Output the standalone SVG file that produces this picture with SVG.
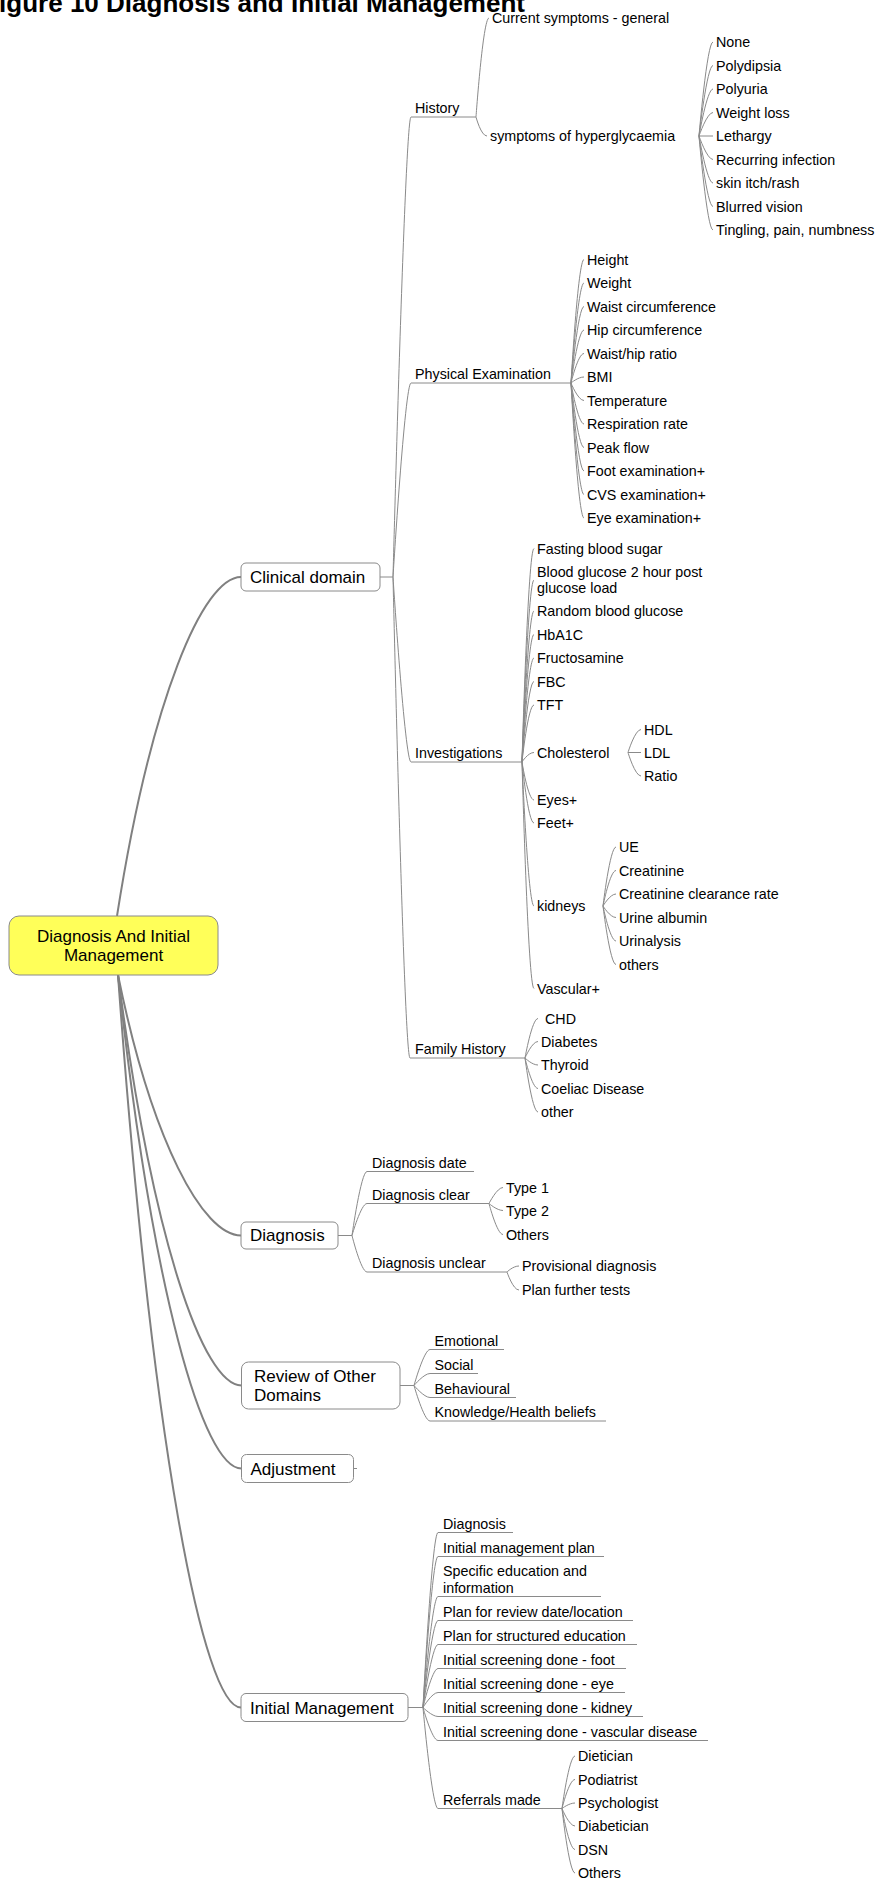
<svg xmlns="http://www.w3.org/2000/svg" width="877" height="1879" viewBox="0 0 877 1879">
<style>
  text { font-family: "Liberation Sans", Arial, sans-serif; fill: #000; }
  .title { font-size: 26px; font-weight: bold; }
  .root-t { font-size: 17px; }
  .n { font-size: 17px; }
  .t { font-size: 14.3px; }
  .box { fill: #fff; stroke: #8a8a8a; stroke-width: 1; }
  .root { fill: #ffff59; stroke: #8a8a8a; stroke-width: 1; }
  .c { fill: none; stroke: #8a8a8a; stroke-width: 1; }
  .r { fill: none; stroke: #808080; stroke-width: 2; }
</style>

<text class="title" x="525" y="11.5" text-anchor="end">Figure 10 Diagnosis and Initial Management</text>

<!-- connectors -->
<g id="connectors">
  <!-- root to main topics -->
  <path class="r" d="M117,916 C151,699 203,577 241,577"/>
  <path class="r" d="M118,975 C152,1142 203,1235.5 241,1235.5"/>
  <path class="r" d="M118,975 C152,1238 203,1385.5 241.5,1385.5"/>
  <path class="r" d="M118,975 C152,1291 203,1468.5 241.5,1468.5"/>
  <path class="r" d="M118,975 C152,1444 203,1707.5 241,1707.5"/>
  <!-- stubs out of main topics -->
  <path class="c" d="M380,577 H393 M338,1235.5 H352 M400,1385.5 H414 M353.5,1468.5 H357 M408,1707.5 H423"/>

  <!-- clinical domain -->
  <path class="c" d="M393,577 C393,577 405,117 411,117 H476"/>
  <path class="c" d="M393,577 C393,577 405,383 411,383 H571"/>
  <path class="c" d="M393,577 C393,577 405,762 411,762 H522"/>
  <path class="c" d="M393,577 C393,577 404,1058 410,1058 H525"/>

  <!-- history -->
  <path class="c" d="M476,117 C476,117 483,18 489,18"/>
  <path class="c" d="M476,117 C476,117 481,136 487,136"/>

  <!-- symptoms of hyperglycaemia -->
  <path class="c" d="M699,136 C699,136 707,42 713,42 M699,136 C699,136 707,65.5 713,65.5 M699,136 C699,136 707,89 713,89 M699,136 C699,136 707,112.5 713,112.5 M699,136 H713 M699,136 C699,136 707,159.5 713,159.5 M699,136 C699,136 707,183 713,183 M699,136 C699,136 707,206.5 713,206.5 M699,136 C699,136 707,230 713,230"/>

  <!-- physical examination -->
  <path class="c" d="M571,383 C571,383 578,259.5 584,259.5 M571,383 C571,383 578,283 584,283 M571,383 C571,383 578,306.5 584,306.5 M571,383 C571,383 578,330 584,330 M571,383 C571,383 578,353.5 584,353.5 M571,383 C571,383 578,377 584,377 M571,383 C571,383 578,400.5 584,400.5 M571,383 C571,383 578,424 584,424 M571,383 C571,383 578,447.5 584,447.5 M571,383 C571,383 578,471 584,471 M571,383 C571,383 578,494.5 584,494.5 M571,383 C571,383 578,518 584,518"/>

  <!-- investigations -->
  <path class="c" d="M522,762 C522,762 528,548.5 534,548.5 M522,762 C522,762 528,580 534,580 M522,762 C522,762 528,611 534,611 M522,762 C522,762 528,634.5 534,634.5 M522,762 C522,762 528,658 534,658 M522,762 C522,762 528,681.5 534,681.5 M522,762 C522,762 528,705 534,705 M522,762 C522,762 528,752.5 534,752.5 M522,762 C522,762 528,800 534,800 M522,762 C522,762 528,823 534,823 M522,762 C522,762 528,906 534,906 M522,762 C522,762 528,988.5 534,988.5"/>
  <path class="c" d="M628,752.5 C628,752.5 635,729.5 641,729.5 M628,752.5 H641 M628,752.5 C628,752.5 635,776 641,776"/>
  <path class="c" d="M603,906 C603,906 610,847 616,847 M603,906 C603,906 610,870.5 616,870.5 M603,906 C603,906 610,894 616,894 M603,906 C603,906 610,917.5 616,917.5 M603,906 C603,906 610,941 616,941 M603,906 C603,906 610,964.5 616,964.5"/>

  <!-- family history -->
  <path class="c" d="M525,1058 C525,1058 532,1018.5 538,1018.5 M525,1058 C525,1058 532,1041.5 538,1041.5 M525,1058 C525,1058 532,1065 538,1065 M525,1058 C525,1058 532,1088.5 538,1088.5 M525,1058 C525,1058 532,1112 538,1112"/>

  <!-- diagnosis -->
  <path class="c" d="M352,1235.5 C352,1235.5 361,1171.5 367,1171.5 H474"/>
  <path class="c" d="M352,1235.5 C352,1235.5 361,1203.5 367,1203.5 H489"/>
  <path class="c" d="M352,1235.5 C352,1235.5 361,1272 367,1272 H507"/>
  <path class="c" d="M489,1203.5 C489,1203.5 497,1187.5 503,1187.5 M489,1203.5 C489,1203.5 497,1210.5 503,1210.5 M489,1203.5 C489,1203.5 497,1234.5 503,1234.5"/>
  <path class="c" d="M507,1272 C507,1272 513,1266 519,1266 M507,1272 C507,1272 513,1290 519,1290"/>

  <!-- review of other domains -->
  <path class="c" d="M414,1385.5 C414,1385.5 424,1349.5 430,1349.5 H504"/>
  <path class="c" d="M414,1385.5 C414,1385.5 424,1373.5 430,1373.5 H478"/>
  <path class="c" d="M414,1385.5 C414,1385.5 424,1397.5 430,1397.5 H516"/>
  <path class="c" d="M414,1385.5 C414,1385.5 424,1421 430,1421 H606"/>

  <!-- initial management -->
  <path class="c" d="M423,1707.5 C423,1707.5 432,1532.5 438,1532.5 H513"/>
  <path class="c" d="M423,1707.5 C423,1707.5 432,1556.5 438,1556.5 H604"/>
  <path class="c" d="M423,1707.5 C423,1707.5 432,1596.5 438,1596.5 H601"/>
  <path class="c" d="M423,1707.5 C423,1707.5 432,1620.5 438,1620.5 H633"/>
  <path class="c" d="M423,1707.5 C423,1707.5 432,1644.5 438,1644.5 H637"/>
  <path class="c" d="M423,1707.5 C423,1707.5 432,1668.5 438,1668.5 H626"/>
  <path class="c" d="M423,1707.5 C423,1707.5 432,1692.5 438,1692.5 H625"/>
  <path class="c" d="M423,1707.5 C423,1707.5 432,1716.5 438,1716.5 H643"/>
  <path class="c" d="M423,1707.5 C423,1707.5 432,1740.5 438,1740.5 H708"/>
  <path class="c" d="M423,1707.5 C423,1707.5 432,1808.5 438,1808.5 H562"/>
  <path class="c" d="M562,1808.5 C562,1808.5 569,1756 575,1756 M562,1808.5 C562,1808.5 569,1779.5 575,1779.5 M562,1808.5 C562,1808.5 569,1803 575,1803 M562,1808.5 C562,1808.5 569,1826 575,1826 M562,1808.5 C562,1808.5 569,1849.5 575,1849.5 M562,1808.5 C562,1808.5 569,1873 575,1873"/>
</g>

<!-- central topic -->
<g id="root">
  <rect class="root" x="9" y="916" width="209" height="59" rx="10"/>
  <text class="root-t" x="113.5" y="942" text-anchor="middle">Diagnosis And Initial</text>
  <text class="root-t" x="113.5" y="961" text-anchor="middle">Management</text>
</g>

<!-- main topics -->
<g id="clinical-domain">
  <rect class="box" x="241" y="563" width="139" height="28" rx="5"/>
  <text class="n" x="250" y="583">Clinical domain</text>
</g>
<g id="diagnosis">
  <rect class="box" x="241" y="1222" width="97" height="27" rx="5"/>
  <text class="n" x="250" y="1241">Diagnosis</text>
</g>
<g id="review">
  <rect class="box" x="241.5" y="1362" width="158.5" height="47" rx="7"/>
  <text class="n" x="254" y="1381.5">Review of Other</text>
  <text class="n" x="254" y="1400.5">Domains</text>
</g>
<g id="adjustment">
  <rect class="box" x="241.5" y="1454.5" width="112" height="28" rx="5"/>
  <text class="n" x="250.5" y="1474.5">Adjustment</text>
</g>
<g id="initial-management">
  <rect class="box" x="241" y="1693.5" width="167" height="28" rx="5"/>
  <text class="n" x="250" y="1713.5">Initial Management</text>
</g>

<!-- clinical domain topics -->
<g id="history"><text class="t" x="415" y="113">History</text></g>
<g id="current-symptoms"><text class="t" x="492" y="23">Current symptoms - general</text></g>
<g id="hyperglycaemia"><text class="t" x="490" y="141">symptoms of hyperglycaemia</text></g>
<g id="hyperglycaemia-items">
  <text class="t" x="716" y="47">None</text>
  <text class="t" x="716" y="70.5">Polydipsia</text>
  <text class="t" x="716" y="94">Polyuria</text>
  <text class="t" x="716" y="117.5">Weight loss</text>
  <text class="t" x="716" y="141">Lethargy</text>
  <text class="t" x="716" y="164.5">Recurring infection</text>
  <text class="t" x="716" y="188">skin itch/rash</text>
  <text class="t" x="716" y="211.5">Blurred vision</text>
  <text class="t" x="716" y="235">Tingling, pain, numbness</text>
</g>

<g id="physical-examination"><text class="t" x="415" y="379">Physical Examination</text></g>
<g id="physical-items">
  <text class="t" x="587" y="264.5">Height</text>
  <text class="t" x="587" y="288">Weight</text>
  <text class="t" x="587" y="311.5">Waist circumference</text>
  <text class="t" x="587" y="335">Hip circumference</text>
  <text class="t" x="587" y="358.5">Waist/hip ratio</text>
  <text class="t" x="587" y="382">BMI</text>
  <text class="t" x="587" y="405.5">Temperature</text>
  <text class="t" x="587" y="429">Respiration rate</text>
  <text class="t" x="587" y="452.5">Peak flow</text>
  <text class="t" x="587" y="476">Foot examination+</text>
  <text class="t" x="587" y="499.5">CVS examination+</text>
  <text class="t" x="587" y="523">Eye examination+</text>
</g>

<g id="investigations"><text class="t" x="415" y="758">Investigations</text></g>
<g id="investigation-items">
  <text class="t" x="537" y="553.5">Fasting blood sugar</text>
  <text class="t" x="537" y="576.7">Blood glucose 2 hour post</text>
  <text class="t" x="537" y="593.3">glucose load</text>
  <text class="t" x="537" y="616">Random blood glucose</text>
  <text class="t" x="537" y="639.5">HbA1C</text>
  <text class="t" x="537" y="663">Fructosamine</text>
  <text class="t" x="537" y="686.5">FBC</text>
  <text class="t" x="537" y="710">TFT</text>
  <text class="t" x="537" y="805">Eyes+</text>
  <text class="t" x="537" y="828">Feet+</text>
  <text class="t" x="537" y="993.5">Vascular+</text>
</g>
<g id="cholesterol">
  <text class="t" x="537" y="757.5">Cholesterol</text>
  <text class="t" x="644" y="734.5">HDL</text>
  <text class="t" x="644" y="757.5">LDL</text>
  <text class="t" x="644" y="781">Ratio</text>
</g>
<g id="kidneys">
  <text class="t" x="537" y="911">kidneys</text>
  <text class="t" x="619" y="852">UE</text>
  <text class="t" x="619" y="875.5">Creatinine</text>
  <text class="t" x="619" y="899">Creatinine clearance rate</text>
  <text class="t" x="619" y="922.5">Urine albumin</text>
  <text class="t" x="619" y="946">Urinalysis</text>
  <text class="t" x="619" y="969.5">others</text>
</g>

<g id="family-history">
  <text class="t" x="415" y="1054">Family History</text>
  <text class="t" x="545" y="1023.5">CHD</text>
  <text class="t" x="541" y="1046.5">Diabetes</text>
  <text class="t" x="541" y="1070">Thyroid</text>
  <text class="t" x="541" y="1093.5">Coeliac Disease</text>
  <text class="t" x="541" y="1117">other</text>
</g>

<!-- diagnosis topics -->
<g id="diagnosis-date"><text class="t" x="372" y="1167.5">Diagnosis date</text></g>
<g id="diagnosis-clear">
  <text class="t" x="372" y="1199.5">Diagnosis clear</text>
  <text class="t" x="506" y="1192.5">Type 1</text>
  <text class="t" x="506" y="1215.5">Type 2</text>
  <text class="t" x="506" y="1239.5">Others</text>
</g>
<g id="diagnosis-unclear">
  <text class="t" x="372" y="1268">Diagnosis unclear</text>
  <text class="t" x="522" y="1271">Provisional diagnosis</text>
  <text class="t" x="522" y="1295">Plan further tests</text>
</g>

<!-- review topics -->
<g id="review-items">
  <text class="t" x="434.5" y="1345.5">Emotional</text>
  <text class="t" x="434.5" y="1369.5">Social</text>
  <text class="t" x="434.5" y="1393.5">Behavioural</text>
  <text class="t" x="434.5" y="1417">Knowledge/Health beliefs</text>
</g>

<!-- initial management topics -->
<g id="management-items">
  <text class="t" x="443" y="1528.5">Diagnosis</text>
  <text class="t" x="443" y="1552.5">Initial management plan</text>
  <text class="t" x="443" y="1576">Specific education and</text>
  <text class="t" x="443" y="1592.7">information</text>
  <text class="t" x="443" y="1616.5">Plan for review date/location</text>
  <text class="t" x="443" y="1640.5">Plan for structured education</text>
  <text class="t" x="443" y="1664.5">Initial screening done - foot</text>
  <text class="t" x="443" y="1688.5">Initial screening done - eye</text>
  <text class="t" x="443" y="1712.5">Initial screening done - kidney</text>
  <text class="t" x="443" y="1736.5">Initial screening done - vascular disease</text>
</g>
<g id="referrals">
  <text class="t" x="443" y="1804.5">Referrals made</text>
  <text class="t" x="578" y="1761">Dietician</text>
  <text class="t" x="578" y="1784.5">Podiatrist</text>
  <text class="t" x="578" y="1808">Psychologist</text>
  <text class="t" x="578" y="1831">Diabetician</text>
  <text class="t" x="578" y="1854.5">DSN</text>
  <text class="t" x="578" y="1878">Others</text>
</g>
</svg>
